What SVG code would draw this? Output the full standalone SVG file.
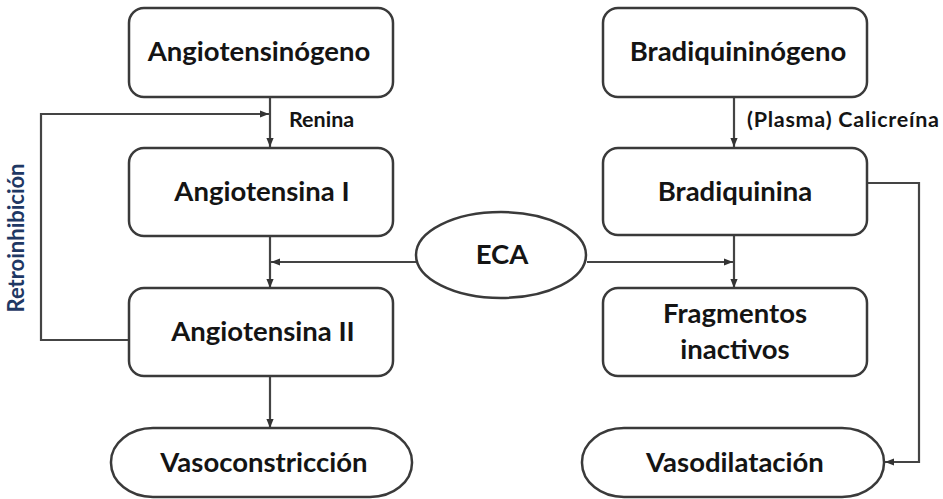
<svg xmlns="http://www.w3.org/2000/svg" width="943" height="499" viewBox="0 0 943 499">
  <style>
    .box { fill: #ffffff; stroke: #3a3a3a; stroke-width: 2.5; }
    .conn { fill: none; stroke: #444444; stroke-width: 2.2; }
    .lbl { font-family: Lato, "Open Sans", "Liberation Sans", sans-serif; font-weight: bold; fill: #141414; text-anchor: middle; }
    .big { font-size: 27.5px; }
    .small { font-size: 21.5px; text-anchor: start; }
    .side { font-size: 22px; fill: #1f3864; }
  </style>
  <defs>
    <marker id="arrow" viewBox="0 0 10 10" refX="10" refY="5" markerWidth="9" markerHeight="9" orient="auto" markerUnits="userSpaceOnUse">
      <path d="M0,1 L10,5 L0,9 Z" fill="#333333"/>
    </marker>
  </defs>

  <rect width="943" height="499" fill="#ffffff"/>

  <!-- connectors -->
  <g id="connectors">
    <!-- angiotensin chain -->
    <path class="conn" d="M270,97 V147" marker-end="url(#arrow)"/>
    <path class="conn" d="M270,236 V288" marker-end="url(#arrow)"/>
    <path class="conn" d="M270,376 V428" marker-end="url(#arrow)"/>
    <!-- feedback loop -->
    <path class="conn" d="M129,340 H41 V114 H269" marker-end="url(#arrow)"/>
    <!-- ECA branches -->
    <path class="conn" d="M416,262 H271" marker-end="url(#arrow)"/>
    <path class="conn" d="M587,262 H733" marker-end="url(#arrow)"/>
    <!-- bradykinin chain -->
    <path class="conn" d="M734,97 V147" marker-end="url(#arrow)"/>
    <path class="conn" d="M734,235 V288" marker-end="url(#arrow)"/>
    <path class="conn" d="M867,183 H919 V462 H885" marker-end="url(#arrow)"/>
  </g>

  <!-- edge labels -->
  <text class="lbl small" x="289" y="127">Renina</text>
  <text class="lbl small" x="747" y="127" textLength="192" lengthAdjust="spacing">(Plasma) Calicreína</text>
  <text class="lbl side" transform="translate(24,238) rotate(-90)">Retroinhibición</text>

  <!-- nodes -->
  <g id="angiotensinogeno">
    <rect class="box" x="129" y="8" width="264" height="89" rx="15"/>
    <text class="lbl big" x="259" y="61">Angiotensinógeno</text>
  </g>
  <g id="angiotensina-i">
    <rect class="box" x="129" y="148" width="264" height="88" rx="15"/>
    <text class="lbl big" x="262" y="201">Angiotensina I</text>
  </g>
  <g id="angiotensina-ii">
    <rect class="box" x="129" y="288" width="264" height="88" rx="15"/>
    <text class="lbl big" x="263" y="341">Angiotensina II</text>
  </g>
  <g id="vasoconstriccion">
    <rect class="box" x="111" y="428" width="301" height="69" rx="42" ry="34"/>
    <text class="lbl big" x="264" y="472">Vasoconstricción</text>
  </g>
  <g id="eca">
    <ellipse class="box" cx="501" cy="255" rx="85" ry="43"/>
    <text class="lbl big" x="502" y="264">ECA</text>
  </g>
  <g id="bradiquininogeno">
    <rect class="box" x="603" y="8" width="264" height="89" rx="15"/>
    <text class="lbl big" x="738" y="61">Bradiquininógeno</text>
  </g>
  <g id="bradiquinina">
    <rect class="box" x="603" y="148" width="264" height="87" rx="15"/>
    <text class="lbl big" x="735" y="201">Bradiquinina</text>
  </g>
  <g id="fragmentos">
    <rect class="box" x="603" y="288" width="264" height="88" rx="15"/>
    <text class="lbl big" x="735" y="323">Fragmentos</text>
    <text class="lbl big" x="735" y="359">inactivos</text>
  </g>
  <g id="vasodilatacion">
    <rect class="box" x="582" y="428" width="302" height="69" rx="42" ry="34"/>
    <text class="lbl big" x="735" y="472">Vasodilatación</text>
  </g>
</svg>
